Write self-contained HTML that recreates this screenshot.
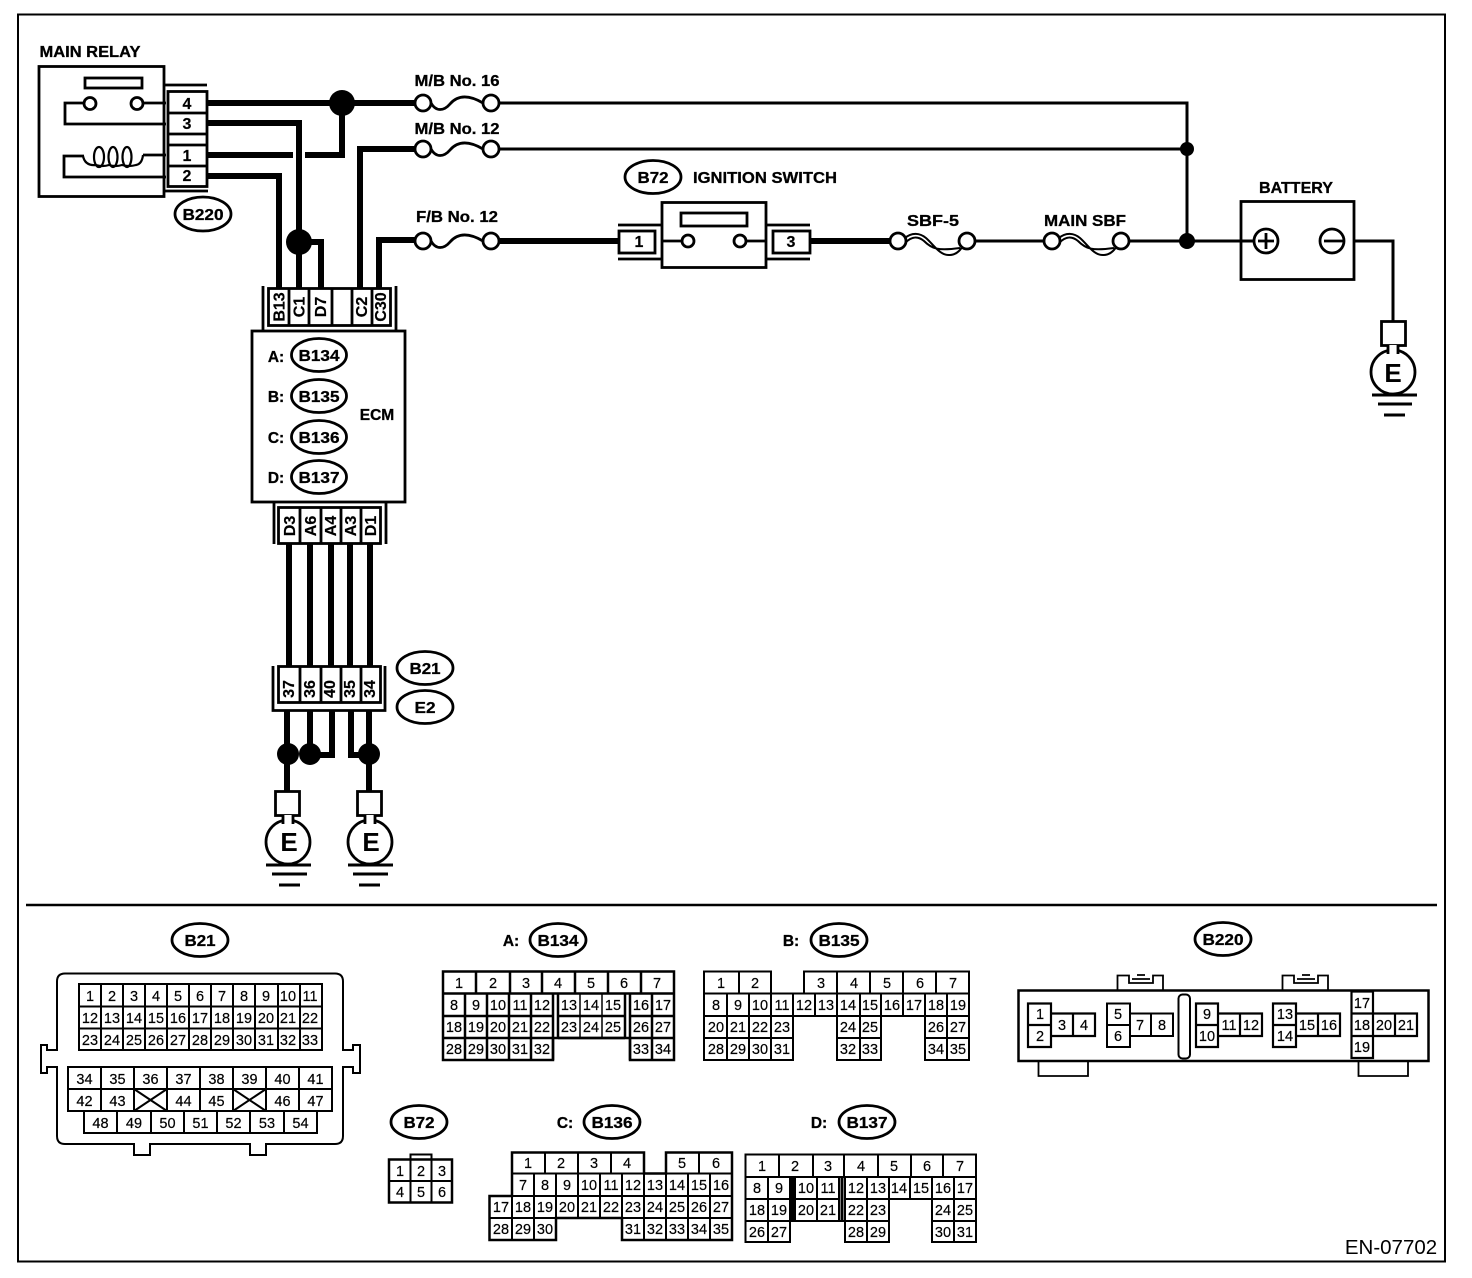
<!DOCTYPE html>
<html><head><meta charset="utf-8"><style>
html,body{margin:0;padding:0;background:#fff}
svg{display:block}
text{font-family:"Liberation Sans",Arial,sans-serif;fill:#000;text-anchor:middle}
.l text,text.l{font-weight:700;font-size:15.5px;stroke:#000;stroke-width:.3px}
.c text{font-size:14.5px;stroke:#000;stroke-width:.2px}
.p text{font-weight:700;font-size:16px;stroke:#000;stroke-width:.2px}
.w path,.w line{fill:none;stroke:#000}
</style></head><body>
<svg width="1472" height="1278" viewBox="0 0 1472 1278" xmlns="http://www.w3.org/2000/svg">
<rect width="1472" height="1278" fill="#fff"/>
<g fill="none" stroke="#000">
<rect x="18" y="14.5" width="1427" height="1247" stroke-width="2"/>
<line x1="26" x2="1437" y1="905" y2="905" stroke-width="2.5"/>
</g>

<!-- thick wires -->
<g fill="none" stroke="#000" stroke-width="6">
<path d="M207 103H416"/>
<path d="M207 123H299V290"/>
<path d="M207 155H293M305 155H342V103"/>
<path d="M207 176H279V290"/>
<path d="M299 242H321V290"/>
<path d="M360 290V149H416"/>
<path d="M379 290V240H416"/>
<path d="M498 241H620"/>
<path d="M810 241H892"/>
<path d="M289 543V667M310 543V667M331 543V667M350 543V667M370 543V667"/>
<path d="M287 711V795M310 711V755M332 711V755H310M351 711V755H369M369 711V795"/>
</g>
<g fill="#000">
<circle cx="342" cy="103" r="13"/><circle cx="299" cy="242" r="13"/>
<circle cx="288" cy="754" r="11"/><circle cx="310" cy="754" r="11"/><circle cx="369" cy="754" r="11"/>
<circle cx="1187" cy="149" r="7"/><circle cx="1187" cy="241" r="8"/>
</g>
<!-- thin wires -->
<g fill="none" stroke="#000" stroke-width="3">
<path d="M499 103H1187V241M499 149H1187"/>
<path d="M975 241H1044M1129 241H1254M1344 241H1393V322"/>
</g>

<!-- Main relay -->
<g fill="none" stroke="#000" stroke-width="2.8">
<rect x="39" y="66.5" width="125" height="130" fill="#fff"/>
<rect x="85" y="78" width="57" height="10"/>
<circle cx="90" cy="103.500" r="6" fill="#fff"/><circle cx="137" cy="103.500" r="6" fill="#fff"/>
<path d="M84 103H65V124H166M143 103H166"/>
<path d="M84 156H64V177H166M143 155H166"/>
<path d="M83 156Q85 166 96 165Q103 167 109 165Q116 167 122 165Q129 167 136 165Q142 164 143 155" stroke-width="2.2"/>
<ellipse cx="99" cy="157" rx="5" ry="10" stroke-width="2.2"/><ellipse cx="113" cy="157" rx="4.500" ry="10" stroke-width="2.2"/><ellipse cx="127" cy="157" rx="4.500" ry="10" stroke-width="2.2"/>
<rect x="168" y="91.500" width="39" height="95" fill="#fff"/>
<path d="M168 113H207M168 134H207M168 145H207M168 166H207"/>
<path d="M165 85H207M165 191H208"/>
</g>
<g class="p"><text x="187" y="109">4</text><text x="187" y="129">3</text><text x="187" y="161">1</text><text x="187" y="181">2</text></g>
<text class="l" x="90" y="57" textLength="101" lengthAdjust="spacingAndGlyphs">MAIN RELAY</text>

<!-- Fuses -->
<g fill="#fff" stroke="#000" stroke-width="2.8">
<path fill="none" d="M431 103C436 112 444 111 450 104S466 93 483 103M431 149C436 158 444 157 450 150S466 139 483 149M431 241C436 250 444 249 450 242S466 231 483 241"/>
<circle cx="423" cy="103" r="8"/><circle cx="491" cy="103" r="8"/>
<circle cx="423" cy="149" r="8"/><circle cx="491" cy="149" r="8"/>
<circle cx="423" cy="241" r="8"/><circle cx="491" cy="241" r="8"/>
<g fill="none" stroke-width="2">
<path d="M905 238C912 232 920 233 926 238C934 245 940 256 950 255C955 255 960 251 962 247M905 243C912 236 918 236 924 241C932 249 938 251 960 248"/>
<path d="M1059 238C1066 232 1074 233 1080 238C1088 245 1094 256 1104 255C1109 255 1114 251 1116 247M1059 243C1066 236 1072 236 1078 241C1086 249 1092 251 1114 248"/>
</g>
<circle cx="898" cy="241" r="8"/><circle cx="967" cy="241" r="8"/>
<circle cx="1052" cy="241" r="8"/><circle cx="1121" cy="241" r="8"/>
</g>
<g class="l">
<text x="457" y="86" textLength="85" lengthAdjust="spacingAndGlyphs">M/B No. 16</text>
<text x="457" y="134" textLength="85" lengthAdjust="spacingAndGlyphs">M/B No. 12</text>
<text x="457" y="222" textLength="82" lengthAdjust="spacingAndGlyphs">F/B No. 12</text>
<text x="933" y="226" textLength="52" lengthAdjust="spacingAndGlyphs">SBF-5</text>
<text x="1085" y="226" textLength="82" lengthAdjust="spacingAndGlyphs">MAIN SBF</text>
<text x="765" y="183" textLength="144" lengthAdjust="spacingAndGlyphs">IGNITION SWITCH</text>
<text x="1296" y="193" textLength="74" lengthAdjust="spacingAndGlyphs">BATTERY</text>
</g>

<!-- Ignition switch -->
<g fill="none" stroke="#000" stroke-width="2.8">
<rect x="662" y="202.500" width="104" height="65" fill="#fff"/>
<rect x="681" y="213" width="66" height="13"/>
<path d="M662 241H682M746 241H766"/>
<circle cx="688" cy="241" r="6" fill="#fff"/><circle cx="740" cy="241" r="6" fill="#fff"/>
<rect x="619" y="231" width="36" height="22" fill="#fff"/>
<rect x="773" y="231" width="37" height="22" fill="#fff"/>
<path d="M618 225H662M618 259H662M766 225H810M766 259H810"/>
</g>
<g class="p"><text x="639" y="247">1</text><text x="791" y="247">3</text></g>

<!-- Battery -->
<g fill="none" stroke="#000" stroke-width="2.8">
<rect x="1241" y="201.500" width="113" height="78" fill="#fff"/>
<circle cx="1266" cy="241" r="12"/><circle cx="1332" cy="241" r="12"/>
<path d="M1258 241H1274M1266 233V249M1324 241H1345"/>
</g>
<path d="M1241 241H1255" stroke="#000" stroke-width="3"/>

<!-- Grounds -->
<g fill="none" stroke="#000" stroke-width="2.800">
<rect x="275.500" y="791.500" width="24" height="24" fill="#fff"/>
<circle cx="288" cy="842" r="22" fill="#fff"/>
<rect x="283" y="815" width="10" height="9" fill="#fff" stroke="none"/>
<path d="M283 815V824M293 815V824"/>
<path d="M266 865H311M272 874H307M279 885H300" stroke-width="3"/>
<rect x="357.500" y="791.500" width="24" height="24" fill="#fff"/>
<circle cx="370" cy="842" r="22" fill="#fff"/>
<rect x="365" y="815" width="10" height="9" fill="#fff" stroke="none"/>
<path d="M365 815V824M375 815V824"/>
<path d="M348 865H393M353 874H388M359 885H380" stroke-width="3"/>
<rect x="1381.500" y="321.500" width="24" height="24" fill="#fff"/>
<circle cx="1393" cy="372" r="22" fill="#fff"/>
<rect x="1388" y="345" width="10" height="9" fill="#fff" stroke="none"/>
<path d="M1388 345V354M1398 345V354"/>
<path d="M1372 395H1417M1378 404H1412M1384 415H1405" stroke-width="3"/>
</g>
<g>
<text x="289" y="851" style="font-size:26px;font-weight:700">E</text>
<text x="371" y="851" style="font-size:26px;font-weight:700">E</text>
<text x="1393" y="382" style="font-size:26px;font-weight:700">E</text>
</g>

<!-- ECM -->
<g fill="none" stroke="#000" stroke-width="2.800">
<rect x="252" y="331" width="153" height="171" fill="#fff"/>
<rect x="268.500" y="288.500" width="122" height="37" fill="#fff"/>
<path d="M289 288V326M309 288V326M332 288V326M352 288V326M372 288V326"/>
<path d="M263 286V331M396 286V331"/>
<rect x="278.500" y="507.500" width="102" height="36" fill="#fff"/>
<path d="M300 507V544M321 507V544M341 507V544M361 507V544"/>
<path d="M274 503V544M386 503V544"/>
<rect x="278.500" y="666.500" width="102" height="36" fill="#fff"/>
<path d="M300 666V703M321 666V703M341 666V703M361 666V703"/>
<path d="M273 666V710.500H385V666"/>
<ellipse cx="319" cy="355" rx="27.500" ry="16.500" fill="#fff"/>
<ellipse cx="319" cy="396" rx="27.500" ry="16.500" fill="#fff"/>
<ellipse cx="319" cy="437" rx="27.500" ry="16.500" fill="#fff"/>
<ellipse cx="319" cy="477" rx="27.500" ry="16.500" fill="#fff"/>
<ellipse cx="203" cy="214" rx="28" ry="17" fill="#fff"/>
<ellipse cx="653" cy="177" rx="28" ry="16.500" fill="#fff"/>
<ellipse cx="425" cy="668" rx="28" ry="16.500" fill="#fff"/>
<ellipse cx="425" cy="707" rx="28" ry="16.500" fill="#fff"/>
<ellipse cx="200" cy="940" rx="28" ry="16.500" fill="#fff"/>
<ellipse cx="558" cy="940" rx="28" ry="16.500" fill="#fff"/>
<ellipse cx="839" cy="940" rx="28" ry="16.500" fill="#fff"/>
<ellipse cx="1223" cy="939" rx="28" ry="16.500" fill="#fff"/>
<ellipse cx="419" cy="1122" rx="28" ry="16.500" fill="#fff"/>
<ellipse cx="612" cy="1122" rx="28" ry="16.500" fill="#fff"/>
<ellipse cx="867" cy="1122" rx="28" ry="16.500" fill="#fff"/>
</g>
<g class="p">
<text transform="translate(284.500 307) rotate(-90)">B13</text>
<text transform="translate(304.500 307) rotate(-90)">C1</text>
<text transform="translate(326 307) rotate(-90)">D7</text>
<text transform="translate(367 307) rotate(-90)">C2</text>
<text transform="translate(386 307) rotate(-90)">C30</text>
<text transform="translate(295 526) rotate(-90)">D3</text>
<text transform="translate(316 526) rotate(-90)">A6</text>
<text transform="translate(336 526) rotate(-90)">A4</text>
<text transform="translate(356 526) rotate(-90)">A3</text>
<text transform="translate(376 526) rotate(-90)">D1</text>
<text transform="translate(294 689) rotate(-90)">37</text>
<text transform="translate(315 689) rotate(-90)">36</text>
<text transform="translate(335 689) rotate(-90)">40</text>
<text transform="translate(355 689) rotate(-90)">35</text>
<text transform="translate(375 689) rotate(-90)">34</text>
</g>
<g class="l">
<text x="276" y="362">A:</text><text x="276" y="402">B:</text><text x="276" y="443">C:</text><text x="276" y="483">D:</text>
<text x="377" y="420">ECM</text>
<text x="511" y="946">A:</text><text x="791" y="946">B:</text><text x="565" y="1128">C:</text><text x="819" y="1128">D:</text>
<text x="319" y="361" textLength="41" lengthAdjust="spacingAndGlyphs">B134</text><text x="319" y="402" textLength="41" lengthAdjust="spacingAndGlyphs">B135</text><text x="319" y="443" textLength="41" lengthAdjust="spacingAndGlyphs">B136</text><text x="319" y="483" textLength="41" lengthAdjust="spacingAndGlyphs">B137</text>
<text x="203" y="220" textLength="41" lengthAdjust="spacingAndGlyphs">B220</text><text x="653" y="183" textLength="31" lengthAdjust="spacingAndGlyphs">B72</text>
<text x="425" y="674" textLength="31" lengthAdjust="spacingAndGlyphs">B21</text><text x="425" y="713" textLength="21" lengthAdjust="spacingAndGlyphs">E2</text>
<text x="200" y="946" textLength="31" lengthAdjust="spacingAndGlyphs">B21</text><text x="558" y="946" textLength="41" lengthAdjust="spacingAndGlyphs">B134</text><text x="839" y="946" textLength="41" lengthAdjust="spacingAndGlyphs">B135</text>
<text x="1223" y="945" textLength="41" lengthAdjust="spacingAndGlyphs">B220</text><text x="419" y="1128" textLength="31" lengthAdjust="spacingAndGlyphs">B72</text><text x="612" y="1128" textLength="41" lengthAdjust="spacingAndGlyphs">B136</text><text x="867" y="1128" textLength="41" lengthAdjust="spacingAndGlyphs">B137</text>
</g>

<!-- B21 connector -->
<g fill="none" stroke="#000" stroke-width="2">
<path d="M65 973.500H335Q343 973.500 343 981.500V1050H353V1045H360V1073H353V1067H343V1136Q343 1144 335 1144H266V1155H250V1144H150V1155H134V1144H65Q57 1144 57 1136V1067H47V1073H41V1045H47V1050H57V981.500Q57 973.500 65 973.500Z"/>
<rect x="79" y="984" width="243" height="66"/>
<path d="M79 1006.500H322M79 1028.500H322M101 984V1050M123 984V1050M145 984V1050M167 984V1050M189 984V1050M211 984V1050M233 984V1050M255 984V1050M278 984V1050M300 984V1050"/>
<rect x="68" y="1067" width="264" height="44"/>
<path d="M68 1089H332M101 1067V1111M134 1067V1111M167 1067V1111M200 1067V1111M233 1067V1111M266 1067V1111M299 1067V1111"/>
<rect x="84" y="1111" width="233" height="22"/>
<path d="M117 1111V1133M151 1111V1133M184 1111V1133M217 1111V1133M250 1111V1133M284 1111V1133"/>
<path d="M134 1111L167 1089M134 1089L167 1111M233 1111L266 1089M233 1089L266 1111"/>
</g>
<g class="c">
<text x="90" y="1001">1</text><text x="112" y="1001">2</text><text x="134" y="1001">3</text><text x="156" y="1001">4</text><text x="178" y="1001">5</text><text x="200" y="1001">6</text><text x="222" y="1001">7</text><text x="244" y="1001">8</text><text x="266" y="1001">9</text><text x="288" y="1001">10</text><text x="310" y="1001">11</text>
<text x="90" y="1023">12</text><text x="112" y="1023">13</text><text x="134" y="1023">14</text><text x="156" y="1023">15</text><text x="178" y="1023">16</text><text x="200" y="1023">17</text><text x="222" y="1023">18</text><text x="244" y="1023">19</text><text x="266" y="1023">20</text><text x="288" y="1023">21</text><text x="310" y="1023">22</text>
<text x="90" y="1045">23</text><text x="112" y="1045">24</text><text x="134" y="1045">25</text><text x="156" y="1045">26</text><text x="178" y="1045">27</text><text x="200" y="1045">28</text><text x="222" y="1045">29</text><text x="244" y="1045">30</text><text x="266" y="1045">31</text><text x="288" y="1045">32</text><text x="310" y="1045">33</text>
<text x="84.500" y="1084">34</text><text x="117.500" y="1084">35</text><text x="150.500" y="1084">36</text><text x="183.500" y="1084">37</text><text x="216.500" y="1084">38</text><text x="249.500" y="1084">39</text><text x="282.500" y="1084">40</text><text x="315.500" y="1084">41</text>
<text x="84.500" y="1106">42</text><text x="117.500" y="1106">43</text><text x="183.500" y="1106">44</text><text x="216.500" y="1106">45</text><text x="282.500" y="1106">46</text><text x="315.500" y="1106">47</text>
<text x="100.500" y="1128">48</text><text x="134" y="1128">49</text><text x="167.500" y="1128">50</text><text x="200.500" y="1128">51</text><text x="233.500" y="1128">52</text><text x="267" y="1128">53</text><text x="300.500" y="1128">54</text>
</g>

<!-- A: B134 -->
<g fill="none" stroke="#000" stroke-width="2.500">
<path d="M443 971.500H674V1060H630V1038H553V1060H443Z"/>
<path d="M443 993.500H674M443 1016H553M558 1016H625M630 1016H674M443 1038H553M558 1038H625M630 1038H674"/>
<path d="M476 971V993M510 971V993M542 971V993M575 971V993M608 971V993M641 971V993"/>
<path d="M465 993V1060M487 993V1060M509 993V1060M531 993V1060M553 993V1060M652 993V1060M630 993V1060M625 993V1038M558 993V1038" />
<path d="M580 993V1038M602 993V1038" stroke-width="1.500"/>
</g>
<g class="c">
<text x="459" y="988">1</text><text x="493" y="988">2</text><text x="526" y="988">3</text><text x="558" y="988">4</text><text x="591" y="988">5</text><text x="624" y="988">6</text><text x="657" y="988">7</text>
<text x="454" y="1010">8</text><text x="476" y="1010">9</text><text x="498" y="1010">10</text><text x="520" y="1010">11</text><text x="542" y="1010">12</text><text x="569" y="1010">13</text><text x="591" y="1010">14</text><text x="613" y="1010">15</text><text x="641" y="1010">16</text><text x="663" y="1010">17</text>
<text x="454" y="1032">18</text><text x="476" y="1032">19</text><text x="498" y="1032">20</text><text x="520" y="1032">21</text><text x="542" y="1032">22</text><text x="569" y="1032">23</text><text x="591" y="1032">24</text><text x="613" y="1032">25</text><text x="641" y="1032">26</text><text x="663" y="1032">27</text>
<text x="454" y="1054">28</text><text x="476" y="1054">29</text><text x="498" y="1054">30</text><text x="520" y="1054">31</text><text x="542" y="1054">32</text><text x="641" y="1054">33</text><text x="663" y="1054">34</text>
</g>

<!-- B: B135 -->
<g fill="none" stroke="#000" stroke-width="2">
<path d="M704 971.500H771V993.500H804V971.500H969V1060H925V1016H881V1060H837V1016H793V1060H704Z"/>
<path d="M704 993.500H771M804 993.500H969M704 1016H969M704 1038H793M837 1038H881M925 1038H969"/>
<path d="M739 971V993M771 971V993M837 971V993M870 971V993M903 971V993M936 971V993"/>
<path d="M727 993V1060M749 993V1060M771 993V1060M793 993V1016M815 993V1016M837 993V1016M860 993V1060M881 993V1016M903 993V1016M925 993V1016M947 993V1060"/>
</g>
<g class="c">
<text x="721" y="988">1</text><text x="755" y="988">2</text><text x="821" y="988">3</text><text x="854" y="988">4</text><text x="887" y="988">5</text><text x="920" y="988">6</text><text x="953" y="988">7</text>
<text x="716" y="1010">8</text><text x="738" y="1010">9</text><text x="760" y="1010">10</text><text x="782" y="1010">11</text><text x="804" y="1010">12</text><text x="826" y="1010">13</text><text x="848" y="1010">14</text><text x="870" y="1010">15</text><text x="892" y="1010">16</text><text x="914" y="1010">17</text><text x="936" y="1010">18</text><text x="958" y="1010">19</text>
<text x="716" y="1032">20</text><text x="738" y="1032">21</text><text x="760" y="1032">22</text><text x="782" y="1032">23</text><text x="848" y="1032">24</text><text x="870" y="1032">25</text><text x="936" y="1032">26</text><text x="958" y="1032">27</text>
<text x="716" y="1054">28</text><text x="738" y="1054">29</text><text x="760" y="1054">30</text><text x="782" y="1054">31</text><text x="848" y="1054">32</text><text x="870" y="1054">33</text><text x="936" y="1054">34</text><text x="958" y="1054">35</text>
</g>

<!-- B220 -->
<g fill="none" stroke="#000" stroke-width="2">
<rect x="1018.500" y="990.500" width="410" height="70.500" stroke-width="2.500"/>
<path d="M1038.500 1061V1076H1088V1061M1358.500 1061V1076H1408V1061" stroke-width="1.800"/>
<path d="M1117.500 990V975.500H1129V983H1153V975.500H1163V990M1282.500 990V975.500H1294V983H1318V975.500H1328V990" stroke-width="1.800"/>
<path d="M1132 979H1150M1297 979H1315M1137 975H1145M1302 975H1310" stroke-width="1.800"/>
<rect x="1178.500" y="994.500" width="11.500" height="64" rx="4"/>
<path d="M1028 1003.500H1051V1047H1028ZM1028 1025H1051M1051 1013.500H1095V1036H1051M1073 1013.500V1036" stroke-width="2.200"/>
<path d="M1107 1003.500H1130V1047H1107ZM1107 1025H1130M1130 1013.500H1173V1036H1130M1151 1013.500V1036"/>
<path d="M1196 1003.500H1218V1047H1196ZM1196 1025H1218M1218 1013.500H1262V1036H1218M1240 1013.500V1036" stroke-width="2.200"/>
<path d="M1273 1003.500H1296V1047H1273ZM1273 1025H1296M1296 1013.500H1340V1036H1296M1318 1013.500V1036" stroke-width="2.200"/>
<path d="M1351.500 991.500H1373V1058H1351.500ZM1351.500 1013.500H1373M1351.500 1036H1373M1373 1013.500H1417V1036H1373M1395 1013.500V1036" stroke-width="2.200"/>
</g>
<g class="c">
<text x="1040" y="1019">1</text><text x="1040" y="1041">2</text><text x="1062" y="1030">3</text><text x="1084" y="1030">4</text>
<text x="1118" y="1019">5</text><text x="1118" y="1041">6</text><text x="1140" y="1030">7</text><text x="1162" y="1030">8</text>
<text x="1207" y="1019">9</text><text x="1207" y="1041">10</text><text x="1229" y="1030">11</text><text x="1251" y="1030">12</text>
<text x="1285" y="1019">13</text><text x="1285" y="1041">14</text><text x="1307" y="1030">15</text><text x="1329" y="1030">16</text>
<text x="1362" y="1008">17</text><text x="1362" y="1030">18</text><text x="1362" y="1052">19</text><text x="1384" y="1030">20</text><text x="1406" y="1030">21</text>
</g>

<!-- B72 connector -->
<g fill="none" stroke="#000" stroke-width="2">
<rect x="389" y="1159.500" width="63" height="43" stroke-width="2.500"/>
<path d="M389 1181H452M410.500 1159V1202M431.500 1159V1202M410.500 1159V1154.500H431.500V1159"/>
</g>
<g class="c"><text x="400" y="1176">1</text><text x="421" y="1176">2</text><text x="442" y="1176">3</text><text x="400" y="1197">4</text><text x="421" y="1197">5</text><text x="442" y="1197">6</text></g>

<!-- C: B136 -->
<g fill="none" stroke="#000" stroke-width="2">
<path d="M512 1152.500H644V1173.500H666V1152.500H732V1240H622V1218H556V1240H489.500V1196H512Z" stroke-width="2.500"/>
<path d="M512 1173.500H732M489.500 1196H732M489.500 1218H556M622 1218H732"/>
<path d="M545 1152V1173M578 1152V1173M611 1152V1173M699 1152V1173"/>
<path d="M512 1173V1240M534 1173V1240M556 1173V1218M578 1173V1218M600 1173V1218M622 1173V1218M644 1173V1240M666 1173V1240M688 1173V1240M710 1173V1240"/>
</g>
<g class="c">
<text x="528" y="1168">1</text><text x="561" y="1168">2</text><text x="594" y="1168">3</text><text x="627" y="1168">4</text><text x="682" y="1168">5</text><text x="716" y="1168">6</text>
<text x="523" y="1190">7</text><text x="545" y="1190">8</text><text x="567" y="1190">9</text><text x="589" y="1190">10</text><text x="611" y="1190">11</text><text x="633" y="1190">12</text><text x="655" y="1190">13</text><text x="677" y="1190">14</text><text x="699" y="1190">15</text><text x="721" y="1190">16</text>
<text x="501" y="1212">17</text><text x="523" y="1212">18</text><text x="545" y="1212">19</text><text x="567" y="1212">20</text><text x="589" y="1212">21</text><text x="611" y="1212">22</text><text x="633" y="1212">23</text><text x="655" y="1212">24</text><text x="677" y="1212">25</text><text x="699" y="1212">26</text><text x="721" y="1212">27</text>
<text x="501" y="1234">28</text><text x="523" y="1234">29</text><text x="545" y="1234">30</text><text x="633" y="1234">31</text><text x="655" y="1234">32</text><text x="677" y="1234">33</text><text x="699" y="1234">34</text><text x="721" y="1234">35</text>
</g>

<!-- D: B137 -->
<g fill="none" stroke="#000" stroke-width="2">
<path d="M745.500 1154.500H976V1242H932V1199H889V1242H845V1221H790V1242H745.500Z"/>
<path d="M745 1177H976M745 1199H790M795 1199H839M845 1199H976M745 1221H790M795 1221H839M845 1221H889M932 1221H976"/>
<path d="M779 1154V1177M813 1154V1177M844 1154V1177M878 1154V1177M911 1154V1177M943 1154V1177"/>
<path d="M768 1177V1242M790 1177V1221M795 1177V1221M817 1177V1221M839 1177V1221M845 1177V1242M867 1177V1242M889 1177V1199M910 1177V1199M932 1177V1199M954 1177V1242"/>
<path d="M792.500 1177V1221M842 1177V1221" stroke-width="3"/>
</g>
<g class="c">
<text x="762" y="1171">1</text><text x="795" y="1171">2</text><text x="828" y="1171">3</text><text x="861" y="1171">4</text><text x="894" y="1171">5</text><text x="927" y="1171">6</text><text x="960" y="1171">7</text>
<text x="757" y="1193">8</text><text x="779" y="1193">9</text><text x="806" y="1193">10</text><text x="828" y="1193">11</text><text x="856" y="1193">12</text><text x="878" y="1193">13</text><text x="899" y="1193">14</text><text x="921" y="1193">15</text><text x="943" y="1193">16</text><text x="965" y="1193">17</text>
<text x="757" y="1215">18</text><text x="779" y="1215">19</text><text x="806" y="1215">20</text><text x="828" y="1215">21</text><text x="856" y="1215">22</text><text x="878" y="1215">23</text><text x="943" y="1215">24</text><text x="965" y="1215">25</text>
<text x="757" y="1237">26</text><text x="779" y="1237">27</text><text x="856" y="1237">28</text><text x="878" y="1237">29</text><text x="943" y="1237">30</text><text x="965" y="1237">31</text>
</g>

<text x="1391" y="1254" style="font-size:20.500px">EN-07702</text>
</svg>
</body></html>
